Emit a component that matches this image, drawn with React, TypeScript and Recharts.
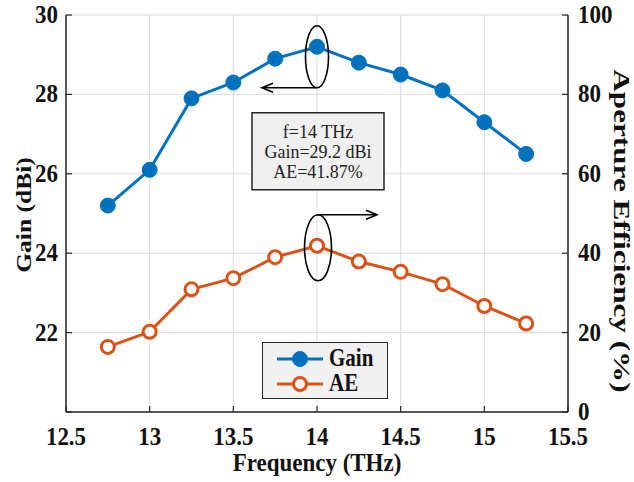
import React from "react";
import {
  ComposedChart,
  Line,
  XAxis,
  YAxis,
  CartesianGrid,
  Legend,
  ReferenceDot,
} from "recharts";

const frequencies = [12.75, 13, 13.25, 13.5, 13.75, 14, 14.25, 14.5, 14.75, 15, 15.25];
const gainValues = [25.2, 26.1, 27.9, 28.3, 28.9, 29.2, 28.8, 28.5, 28.1, 27.3, 26.5];
const aeValues = [16.4, 20.2, 30.9, 33.7, 39.0, 41.87, 37.9, 35.3, 32.2, 26.7, 22.3];

const xTicks = [12.5, 13, 13.5, 14, 14.5, 15, 15.5];
const gainTicks = [20, 22, 24, 26, 28, 30];
const aeTicks = [0, 20, 40, 60, 80, 100];

const peakFreq = 14;
const peakGain = 29.2;
const peakAE = 41.87;
const noteLines = ["f=14 THz", "Gain=29.2 dBi", "AE=41.87%"];
const legendOrder = ["gain", "ae"];

const data = frequencies.map((f, i) => ({ f, gain: gainValues[i], ae: aeValues[i] }));

const FONT = '"Liberation Serif", "Times New Roman", serif';
const AXIS = "#262626";
const BLUE = "#0072BD";
const ORANGE = "#D95319";
const TICK_SIZE = 23;

const Stretched = ({ x, y, anchor, size, sy, children }: any) => (
  <g transform={`translate(${x},${y}) scale(1,${sy ?? 1.08})`}>
    <text x={0} y={0} textAnchor={anchor} fontFamily={FONT} fontWeight="bold" fontSize={size} fill="#111">
      {children}
    </text>
  </g>
);

const BottomTick = (p: any) => {
  const { x, y, payload } = p;
  return (
    <g>
      <line x1={x} y1={y} x2={x} y2={y - 6} stroke={AXIS} strokeWidth={1.2} />
      <Stretched x={x} y={y + 33} anchor="middle" size={TICK_SIZE}>
        {String(payload.value)}
      </Stretched>
    </g>
  );
};

const TopTick = (p: any) => {
  const { x, y } = p;
  return <line x1={x} y1={y} x2={x} y2={y + 6} stroke={AXIS} strokeWidth={1.2} />;
};

const LeftTick = (p: any) => {
  const { x, y, payload } = p;
  return (
    <g>
      <line x1={x} y1={y} x2={x + 6} y2={y} stroke={AXIS} strokeWidth={1.2} />
      {payload.value !== 20 && (
        <Stretched x={x - 8} y={y + 8} anchor="end" size={TICK_SIZE}>
          {String(payload.value)}
        </Stretched>
      )}
    </g>
  );
};

const RightTick = (p: any) => {
  const { x, y, payload } = p;
  return (
    <g>
      <line x1={x} y1={y} x2={x - 6} y2={y} stroke={AXIS} strokeWidth={1.2} />
      <Stretched x={x + 10} y={y + 8} anchor="start" size={TICK_SIZE}>
        {String(payload.value)}
      </Stretched>
    </g>
  );
};

const GainMarker = (p: any) => {
  const { cx, cy } = p;
  if (cx == null || cy == null) return null;
  const ay = cy + 41;
  const tip = cx - 55;
  return (
    <g>
      <ellipse cx={cx} cy={cy + 10} rx={11.5} ry={31} fill="none" stroke="#000" strokeWidth={1.6} />
      <line x1={cx} y1={ay} x2={tip} y2={ay} stroke="#000" strokeWidth={1.6} />
      <path d={`M${tip + 11},${ay - 4.5} L${tip},${ay} L${tip + 11},${ay + 4.5}`} fill="none" stroke="#000" strokeWidth={1.6} />
    </g>
  );
};

const AEMarker = (p: any) => {
  const { cx, cy } = p;
  if (cx == null || cy == null) return null;
  const ay = cy - 31;
  const tip = cx + 60;
  return (
    <g>
      <ellipse cx={cx + 1} cy={cy + 2} rx={13.5} ry={33} fill="none" stroke="#000" strokeWidth={1.6} />
      <line x1={cx} y1={ay} x2={tip} y2={ay} stroke="#000" strokeWidth={1.6} />
      <path d={`M${tip - 11},${ay - 4.5} L${tip},${ay} L${tip - 11},${ay + 4.5}`} fill="none" stroke="#000" strokeWidth={1.6} />
    </g>
  );
};

const NoteBox = (p: any) => {
  const { cx, cy } = p;
  if (cx == null || cy == null) return null;
  const top = cy + 66;
  const left = cx - 65;
  return (
    <g>
      <rect x={left} y={top} width={132} height={77} fill="#f0f0f0" stroke="#262626" strokeWidth={1.5} />
      {noteLines.map((t, i) => (
        <text key={t} x={left + 66} y={top + 25 + i * 20} textAnchor="middle" fontFamily={FONT} fontSize={18} fill="#222">
          {t}
        </text>
      ))}
    </g>
  );
};

const LeftTitle = (p: any) => {
  const vb = p.viewBox || {};
  const cx = (vb.x ?? 0) + 24;
  const cy = 215;
  return (
    <g transform={`translate(${cx},${cy}) rotate(-90) scale(1.16,1)`}>
      <text
        x={0}
        y={0}
        textAnchor="middle"
        dominantBaseline="central"
        fontFamily={FONT}
        fontWeight="bold"
        fontSize={22}
        fill="#111"
      >
        Gain (dBi)
      </text>
    </g>
  );
};

const RightTitle = (p: any) => {
  const vb = p.viewBox || {};
  const cx = (vb.x ?? 568) + 54;
  const cy = 231;
  return (
    <g transform={`translate(${cx},${cy}) rotate(90) scale(1.3,1)`}>
      <text
        x={0}
        y={0}
        textAnchor="middle"
        dominantBaseline="central"
        fontFamily={FONT}
        fontWeight="bold"
        fontSize={24}
        fill="#111"
      >
        Aperture Efficiency (%)
      </text>
    </g>
  );
};

const BottomTitle = (p: any) => {
  const vb = p.viewBox || {};
  const cx = (vb.x ?? 66) + (vb.width ?? 502) / 2;
  return (
    <g transform={`translate(${cx},471) scale(1,1.1)`}>
      <text x={0} y={0} textAnchor="middle" fontFamily={FONT} fontWeight="bold" fontSize={23} fill="#111">
        Frequency (THz)
      </text>
    </g>
  );
};

const LegendContent = (p: any) => {
  const items = ([...(p.payload || [])] as any[]).sort(
    (a, b) => legendOrder.indexOf(a.dataKey) - legendOrder.indexOf(b.dataKey)
  );
  return (
    <div
      style={{
        width: 126,
        height: 57,
        boxSizing: "border-box",
        border: "1.5px solid #262626",
        background: "#f0f0f0",
        paddingTop: 3,
      }}
    >
      {items.map((it: any) => {
        const filled = it.dataKey === "gain";
        return (
          <div key={it.value} style={{ display: "flex", alignItems: "center", height: 25 }}>
            <svg width={62} height={22} style={{ marginLeft: 2 }}>
              <line x1={12} y1={11} x2={58} y2={11} stroke={it.color} strokeWidth={3} />
              <circle cx={35} cy={11} r={filled ? 7.5 : 6.5} fill={filled ? it.color : "#f0f0f0"} stroke={it.color} strokeWidth={filled ? 1 : 3} />
            </svg>
            <span style={{ fontFamily: FONT, fontWeight: "bold", fontSize: 21, color: "#111", marginLeft: 2, display: "inline-block", transform: "scaleY(1.15)" }}>
              {it.value}
            </span>
          </div>
        );
      })}
    </div>
  );
};

export default function App() {
  return (
    <div style={{ position: "absolute", left: 0, top: 0, width: 634, height: 482, background: "#fff" }}>
      <ComposedChart width={634} height={482} data={data} margin={{ top: 15, right: 0, bottom: 0, left: 0 }}>
        <CartesianGrid stroke="#dadada" strokeWidth={1} yAxisId="left" />
        <XAxis
          dataKey="f"
          type="number"
          domain={[12.5, 15.5]}
          ticks={xTicks}
          height={70}
          tickSize={0}
          tickMargin={0}
          tick={<BottomTick />}
          axisLine={{ stroke: AXIS, strokeWidth: 1.5 }}
          tickLine={false}
          label={<BottomTitle />}
          interval={0}
        />
        <XAxis
          xAxisId="top"
          dataKey="f"
          type="number"
          orientation="top"
          domain={[12.5, 15.5]}
          ticks={xTicks}
          height={0}
          tickSize={0}
          tickMargin={0}
          tick={<TopTick />}
          axisLine={{ stroke: AXIS, strokeWidth: 1.5 }}
          tickLine={false}
          interval={0}
        />
        <YAxis
          yAxisId="left"
          orientation="left"
          domain={[20, 30]}
          ticks={gainTicks}
          width={66}
          tickSize={0}
          tickMargin={0}
          tick={<LeftTick />}
          axisLine={{ stroke: AXIS, strokeWidth: 1.5 }}
          tickLine={false}
          label={<LeftTitle />}
          interval={0}
        />
        <YAxis
          yAxisId="right"
          orientation="right"
          domain={[0, 100]}
          ticks={aeTicks}
          width={66}
          tickSize={0}
          tickMargin={0}
          tick={<RightTick />}
          axisLine={{ stroke: AXIS, strokeWidth: 1.5 }}
          tickLine={false}
          label={<RightTitle />}
          interval={0}
        />
        <Legend
          layout="horizontal"
          verticalAlign="middle"
          align="center"
          content={<LegendContent />}
          wrapperStyle={{ left: 262, top: 342, width: 126, height: 57 }}
        />
        <Line
          yAxisId="left"
          dataKey="gain"
          name="Gain"
          stroke={BLUE}
          strokeWidth={3}
          dot={{ r: 7.5, fill: BLUE, stroke: BLUE, strokeWidth: 1 }}
          activeDot={false}
          isAnimationActive={false}
        />
        <Line
          yAxisId="right"
          dataKey="ae"
          name="AE"
          stroke={ORANGE}
          strokeWidth={3}
          dot={{ r: 6.5, fill: "#fff", stroke: ORANGE, strokeWidth: 3 }}
          activeDot={false}
          isAnimationActive={false}
        />
        <ReferenceDot yAxisId="left" x={peakFreq} y={peakGain} ifOverflow="visible" shape={<GainMarker />} />
        <ReferenceDot yAxisId="left" x={peakFreq} y={peakGain} ifOverflow="visible" shape={<NoteBox />} />
        <ReferenceDot yAxisId="right" x={peakFreq} y={peakAE} ifOverflow="visible" shape={<AEMarker />} />
      </ComposedChart>
    </div>
  );
}
